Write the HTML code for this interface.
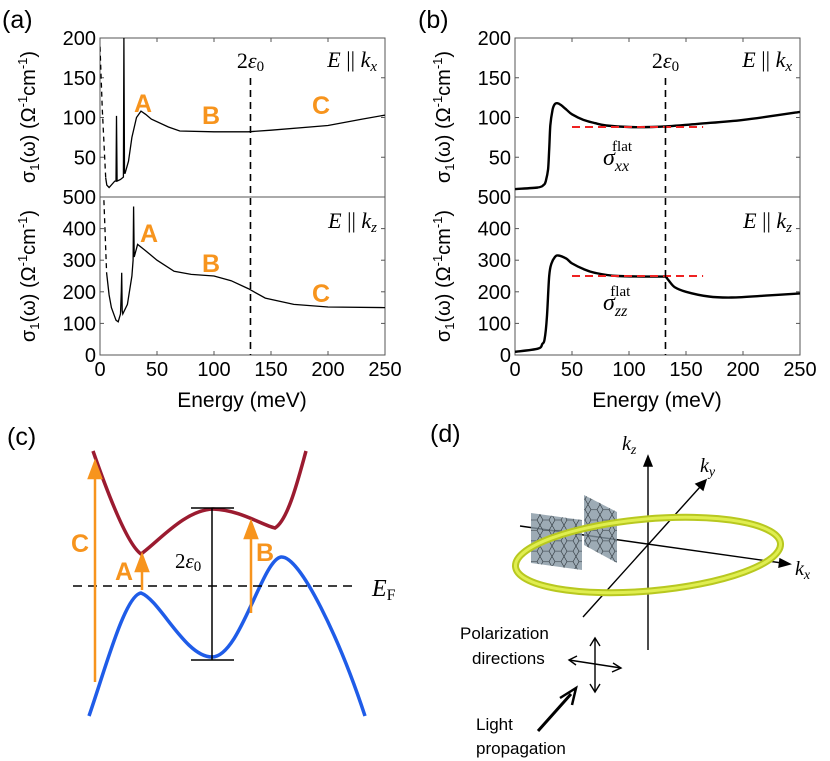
<!DOCTYPE html>
<html><head><meta charset="utf-8"><style>
html,body{margin:0;padding:0;background:#fff}
svg{display:block}
text{font-family:"Liberation Sans",sans-serif}
.m{font-family:"Liberation Serif",serif;font-style:italic}
.r{font-family:"Liberation Serif",serif}
.lbl{fill:#f7941d;font-weight:bold;font-size:25px}
</style></head><body>
<svg id="fig" width="830" height="761" viewBox="0 0 830 761" xmlns="http://www.w3.org/2000/svg">
<defs>
<pattern id="hex" width="12" height="10.4" patternUnits="userSpaceOnUse">
<path d="M0,5.2 L3,0 L9,0 L12,5.2 L9,10.4 L3,10.4 Z" fill="none" stroke="#2a3238" stroke-width="0.6"/>
</pattern>
</defs>
<g id="charts"></g>

<text x="2" y="28" font-size="25">(a)</text>
<text x="418" y="28" font-size="25">(b)</text>
<text x="242" y="407" font-size="21" text-anchor="middle">Energy (meV)</text>
<text x="657" y="407" font-size="21" text-anchor="middle">Energy (meV)</text>

<g class="lbl">
<text x="143" y="112" text-anchor="middle">A</text><text x="211" y="124" text-anchor="middle">B</text><text x="321" y="114" text-anchor="middle">C</text>
<text x="149" y="242" text-anchor="middle">A</text><text x="211" y="272" text-anchor="middle">B</text><text x="321" y="302" text-anchor="middle">C</text>
</g>

<g>
<text x="7" y="445" font-size="25">(c)</text>
<path d="M93,451 C110,500 128,545 141,554 C160,540 185,510 213,509 C240,510 262,525 275,528 C288,520 298,480 306,451" fill="none" stroke="#9b1b30" stroke-width="3.5"/>
<path d="M89,716 C105,670 125,595 141,593 C160,600 185,657 212,657 C240,657 262,560 281,557 C300,555 340,640 365,716" fill="none" stroke="#1f5ce8" stroke-width="3.5"/>
<line x1="73" y1="586" x2="358" y2="586" stroke="#000" stroke-width="1.5" stroke-dasharray="9,6"/>
<text x="372" y="596" font-size="24" class="m">E<tspan font-size="16" dy="4" font-style="normal">F</tspan></text>
<g stroke="#000" stroke-width="1.5">
<line x1="191" y1="508" x2="234" y2="508"/><line x1="191" y1="660" x2="234" y2="660"/><line x1="212" y1="508" x2="212" y2="660"/></g>
<text x="175" y="568" font-size="21" class="r">2<tspan font-style="italic">ε</tspan><tspan font-size="15" dy="3">0</tspan></text>
<g stroke="#f7941d" stroke-width="2.5" fill="#f7941d">
<line x1="95" y1="682" x2="95" y2="475"/><polygon points="89,478 101,478 95,462"/>
<line x1="142" y1="590" x2="142" y2="568"/><polygon points="136,571 148,571 142,555"/>
<line x1="251" y1="613" x2="251" y2="535"/><polygon points="245,538 257,538 251,522"/>
</g>
<text x="80" y="552" class="lbl" text-anchor="middle">C</text>
<text x="124" y="580" class="lbl" text-anchor="middle">A</text>
<text x="265" y="561" class="lbl" text-anchor="middle">B</text>
</g>

<g>
<text x="430" y="442" font-size="25">(d)</text>
<g stroke="#000" stroke-width="1.4" fill="#000">
<line x1="648" y1="650" x2="648" y2="464"/><polygon points="644,466 652,466 648,456"/>
<line x1="583" y1="617" x2="700" y2="487"/><polygon points="696,484 703,490 706,480"/>
<line x1="520" y1="526" x2="782" y2="563"/><polygon points="780,559 779,567 790,564"/>
</g>
<g>
<polygon points="531,513 582,520 582,570 531,563" fill="#8496a2" fill-opacity="0.8"/>
<polygon points="531,513 582,520 582,570 531,563" fill="url(#hex)"/></g>
<g>
<polygon points="584,495 617,512 617,563 584,545" fill="#8496a2" fill-opacity="0.8"/>
<polygon points="584,495 617,512 617,563 584,545" fill="url(#hex)"/></g>
<ellipse cx="648" cy="555" rx="133" ry="36" transform="rotate(-5 648 555)" fill="none" stroke="#b8c820" stroke-width="7"/>
<ellipse cx="648" cy="555" rx="133" ry="36" transform="rotate(-5 648 555)" fill="none" stroke="#e0ee50" stroke-width="3"/>
<text x="622" y="450" font-size="20" class="m">k<tspan font-size="14" dy="4">z</tspan></text>
<text x="700" y="472" font-size="20" class="m">k<tspan font-size="14" dy="4">y</tspan></text>
<text x="795" y="575" font-size="20" class="m">k<tspan font-size="14" dy="4">x</tspan></text>
<text x="460" y="639" font-size="17">Polarization</text>
<text x="472" y="664" font-size="17">directions</text>
<g stroke="#000" stroke-width="1.4" fill="none">
<line x1="595" y1="638" x2="595" y2="692"/><polyline points="590,646 595,638 600,646"/><polyline points="590,684 595,692 600,684"/>
<line x1="569" y1="660" x2="621" y2="668"/><polyline points="577,656 569,660 576,665"/><polyline points="613,663 621,668 612,672"/>
</g>
<line x1="538" y1="731" x2="571" y2="694" stroke="#000" stroke-width="3"/>
<polyline points="560,698 576,688 572,705" fill="none" stroke="#000" stroke-width="2.5"/>
<text x="476" y="730" font-size="17">Light</text>
<text x="476" y="754" font-size="17">propagation</text>
</g>
</svg>
<script>
const aTopE=[0,2,5,6,8,13,14,14.5,15,18,20.5,21,21.5,22,25,28,32,36,40,45,60,70,100,130,150,200,230,250];
const aTopS=[189,110,24,15,12,20,20,102,20,22,25,200,30,30,45,75,100,108,104,98,88,83,82,82,84,90,98,103];
const aBotE=[3.4,5.8,8,10,14,16,18,18.7,19,19.5,20,24,28,29,29.5,30,33,40,50,65,80,100,115,130,145,170,200,250];
const aBotS=[490,260,190,150,110,105,130,200,260,140,130,160,250,300,470,310,350,330,300,265,255,250,235,210,180,160,152,150];
const bTopE=[0,20,25,27,29,30,31,33,35,37,40,45,50,60,70,80,100,120,135,160,200,250];
const bTopS=[10,12,15,20,35,60,90,110,117,118,116,110,104,97,93,90,88,88,89,92,97,107];
const bBotE=[0,20,24,26,28,30,32,35,38,45,50,60,70,90,130,132,135,140,150,170,190,220,250];
const bBotS=[10,20,35,50,120,250,290,310,315,305,290,272,260,250,248,248,235,215,200,185,182,188,195];
const flatE=[50,165];
const flatTop=[88,88];
const flatBot=[250,250];
const gapE=132;
const xTicks=[0,50,100,150,200,250];
const topTicks=[0,50,100,150,200];
const botTicks=[0,100,200,300,400,500];

const NS="http://www.w3.org/2000/svg";
const root=document.getElementById('charts');
function mk(tag,at,parent){const e=document.createElementNS(NS,tag);for(const k in at)e.setAttribute(k,at[k]);(parent||root).appendChild(e);return e;}
const Y0=38,YM=197,Y1=355;
function smoothPath(pts){
  let d='M'+pts[0][0].toFixed(1)+','+pts[0][1].toFixed(1);
  for(let i=0;i<pts.length-1;i++){
    const p0=pts[i-1]||pts[i],p1=pts[i],p2=pts[i+1],p3=pts[i+2]||p2;
    const c1=[p1[0]+(p2[0]-p0[0])/6,p1[1]+(p2[1]-p0[1])/6];
    const c2=[p2[0]-(p3[0]-p1[0])/6,p2[1]-(p3[1]-p1[1])/6];
    d+='C'+c1[0].toFixed(1)+','+c1[1].toFixed(1)+' '+c2[0].toFixed(1)+','+c2[1].toFixed(1)+' '+p2[0].toFixed(1)+','+p2[1].toFixed(1);
  }
  return d;
}
function panel(x0,x1,id,tE,tS,bE,bS){
  const sx=v=>x0+(v/250)*(x1-x0);
  const syT=v=>YM-(v/200)*(YM-Y0);
  const syB=v=>Y1-(v/500)*(Y1-YM);
  const g=mk('g',{});
  
  
  const clip=mk('clipPath',{id:'c'+id},g);
  mk('rect',{x:x0,y:Y0,width:x1-x0,height:Y1-Y0},clip);
  const fr=mk('rect',{x:x0,y:Y0,width:x1-x0,height:Y1-Y0,fill:'none',stroke:'#555','stroke-width':1},g);
  
  
  const mid=mk('line',{x1:x0,x2:x1,y1:YM,y2:YM,stroke:'#555','stroke-width':1},g);
  
  
  xTicks.forEach(t=>{
    const x=sx(t);
    mk('line',{x1:x,x2:x,y1:Y1,y2:Y1-4,stroke:'#555'},g);
    mk('line',{x1:x,x2:x,y1:Y0,y2:Y0+4,stroke:'#555'},g);
    const tx=mk('text',{x:x,y:Y1+21,'font-size':20,'text-anchor':'middle'},g);
    tx.textContent=t;
    
    
  });
  topTicks.forEach(t=>{
    const y=syT(t);
    mk('line',{x1:x0,x2:x0+4,y1:y,y2:y,stroke:'#555'},g);
    mk('line',{x1:x1,x2:x1-4,y1:y,y2:y,stroke:'#555'},g);
    if(t>0){const tx=mk('text',{x:x0-4,y:y+7,'font-size':20,'text-anchor':'end'},g);tx.textContent=t;
    
    }
  });
  botTicks.forEach(t=>{
    const y=syB(t);
    mk('line',{x1:x0,x2:x0+4,y1:y,y2:y,stroke:'#555'},g);
    mk('line',{x1:x1,x2:x1-4,y1:y,y2:y,stroke:'#555'},g);
    const tx=mk('text',{x:x0-4,y:y+7,'font-size':20,'text-anchor':'end'},g);tx.textContent=t;
    
    
  });
  [117,276].forEach(cy=>{
    const tx=mk('text',{x:0,y:0,'font-size':20,'text-anchor':'middle',transform:`translate(${x0-65},${cy}) rotate(-90)`},g);
    tx.innerHTML='σ<tspan font-size="13" dy="4">1</tspan><tspan dy="-4">(ω) (Ω</tspan><tspan font-size="13" dy="-8">-1</tspan><tspan dy="8">cm</tspan><tspan font-size="13" dy="-8">-1</tspan><tspan dy="8">)</tspan>';
    
    
  });
  const line=(E,S,sy,attrs,name,smooth)=>{
    const pts=E.map((e,i)=>[sx(e),sy(S[i])]);
    const d=smooth?smoothPath(pts):pts.map((p,i)=>(i?'L':'M')+p[0].toFixed(1)+','+p[1].toFixed(1)).join('');
    const p=mk('path',Object.assign({d:d,fill:'none','clip-path':`url(#c${id})`},attrs),g);
    
    
  };
  if(id==='a'){
    line(tE.slice(0,3),tS.slice(0,3),syT,{stroke:'#000','stroke-width':1.3,'stroke-dasharray':'5,4'},'drude-tail-top');
    line(tE.slice(2),tS.slice(2),syT,{stroke:'#000','stroke-width':1.3},'sigma-xx-curve');
    line(bE.slice(0,2),bS.slice(0,2),syB,{stroke:'#000','stroke-width':1.3,'stroke-dasharray':'5,4'},'drude-tail-bottom');
    line(bE.slice(1),bS.slice(1),syB,{stroke:'#000','stroke-width':1.3},'sigma-zz-curve');
  }else{
    line(tE,tS,syT,{stroke:'#000','stroke-width':2.4},'sigma-xx-curve',true);
    line(bE,bS,syB,{stroke:'#000','stroke-width':2.4},'sigma-zz-curve',true);
    line(flatE,flatTop,syT,{stroke:'#ee2222','stroke-width':2,'stroke-dasharray':'8,5'},'flat-xx-line');
    line(flatE,flatBot,syB,{stroke:'#ee2222','stroke-width':2,'stroke-dasharray':'8,5'},'flat-zz-line');
    const s1=mk('text',{x:x0+88,y:165,'font-size':24,class:'m'},g);
    s1.innerHTML='σ<tspan font-size="16" dy="6">xx</tspan><tspan font-size="15" dx="-17" dy="-20" font-style="normal">flat</tspan>';
    
    
    const s2=mk('text',{x:x0+88,y:310,'font-size':24,class:'m'},g);
    s2.innerHTML='σ<tspan font-size="16" dy="6">zz</tspan><tspan font-size="15" dx="-17" dy="-20" font-style="normal">flat</tspan>';
    
    
  }
  const gx=sx(gapE);
  const gl=mk('line',{x1:gx,x2:gx,y1:78,y2:Y1,stroke:'#000','stroke-width':1.6,'stroke-dasharray':'7,5'},g);
  
  
  const gt=mk('text',{x:gx,y:68,'font-size':22,'text-anchor':'middle',class:'r'},g);
  gt.innerHTML='2<tspan font-style="italic">ε</tspan><tspan font-size="15" dy="3">0</tspan>';
  
  
  [[67,'x'],[228,'z']].forEach(([y,s])=>{
    const t=mk('text',{x:x1-8,y:y,'font-size':22,'text-anchor':'end',class:'m'},g);
    t.innerHTML=`E <tspan font-style="normal">||</tspan> k<tspan font-size="15" dy="4">${s}</tspan>`;
    
    
  });
}
panel(100,385,'a',aTopE,aTopS,aBotE,aBotS);
panel(515,800,'b',bTopE,bTopS,bBotE,bBotS);
</script>
</body></html>
